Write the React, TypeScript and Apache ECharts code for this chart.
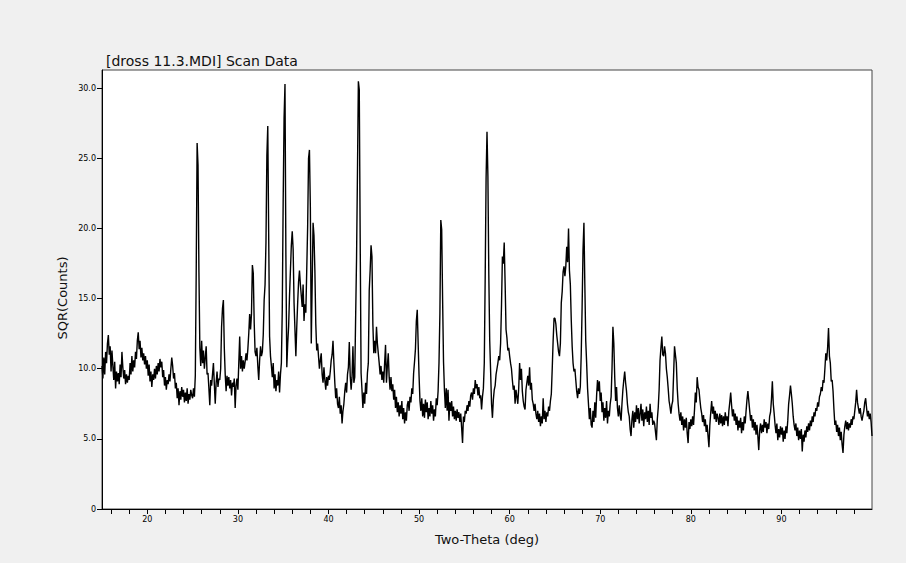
import React, { useEffect, useRef } from "react";
import * as echarts from "echarts";

// Two-Theta scan: values every 0.1 deg starting at 15.0 deg
const X_START = 15;
const X_STEP = 0.1;

const seg15to25 = [
  10.2, 9.3, 10.8, 9.6, 11.2, 10.4, 11.8, 12.4, 11.0, 11.6,
  9.8, 11.3, 10.2, 9.2, 10.5, 8.6, 9.8, 9.1, 9.7, 8.9,
  10.3, 9.4, 11.2, 10.1, 9.3, 9.9, 8.9, 9.6, 9.0, 9.5,
  9.2, 10.4, 9.6, 10.9, 9.8, 10.6, 10.1, 11.2, 10.7, 12.0,
  12.6, 11.4, 12.0, 10.8, 11.5, 10.6, 11.1, 10.3, 10.9, 10.0,
  10.6, 9.5, 10.3, 9.1, 9.8, 8.7, 9.6, 9.2, 10.0, 9.3,
  10.2, 9.6, 10.4, 9.8, 10.7, 10.1, 10.5, 9.4, 9.9, 8.8,
  9.4, 8.5, 9.2, 8.9, 9.6, 9.1, 10.0, 10.8, 10.2, 9.3,
  9.7, 8.6, 9.0, 7.9, 8.6, 7.4, 8.4, 7.8, 8.7, 8.0,
  8.5, 7.6, 8.3, 7.7, 8.6, 7.5, 8.2, 7.8, 8.5, 8.1,
];

const seg25to35 = [
  7.9, 8.6, 8.0, 9.5, 16.9, 26.1, 24.5, 16.9, 11.5, 10.2,
  12.0, 10.4, 11.3, 10.0, 10.8, 11.6, 9.6, 9.7, 8.6, 7.4,
  9.2, 8.8, 9.6, 10.4, 8.9, 7.5, 9.0, 9.8, 8.7, 9.3,
  9.2, 10.0, 13.0, 14.3, 14.9, 11.5, 9.6, 8.4, 9.5, 8.8,
  9.4, 8.6, 9.2, 8.1, 9.0, 8.7, 9.3, 7.2, 8.8, 9.3,
  8.5, 10.4, 12.3, 10.0, 10.9, 9.8, 10.6, 10.0, 10.5, 11.1,
  10.6, 11.4, 12.5, 13.9, 12.8, 13.9, 17.4, 16.8, 13.3, 11.2,
  10.9, 11.5, 10.2, 9.2, 10.6, 11.6, 10.9, 11.2, 12.4, 14.9,
  16.0, 19.0, 25.2, 27.3, 19.6, 12.3, 10.9, 10.2, 9.4, 10.4,
  8.6, 9.6, 8.4, 9.2, 8.8, 9.8, 8.3, 9.6, 10.4, 14.2,
];

const seg35to45 = [
  22.0, 27.9, 30.3, 18.0, 10.1, 11.8, 13.0, 15.2, 17.0, 18.8,
  19.8, 18.5, 14.7, 12.8, 10.9, 13.0, 14.7, 16.2, 17.0, 16.0,
  15.2, 14.4, 16.0, 13.4, 14.6, 14.0, 17.0, 20.1, 25.0, 25.6,
  21.5, 11.8, 16.0, 20.4, 19.5, 17.0, 13.2, 11.3, 11.8, 10.9,
  10.0, 10.6, 11.1, 9.6, 9.0, 10.1, 9.2, 8.5, 9.4, 8.8,
  9.5, 9.2, 9.8, 10.6, 11.0, 12.0, 10.4, 9.0, 7.9, 8.6,
  7.5, 7.2, 8.0, 6.8, 7.4, 6.1, 7.0, 7.5, 8.4, 9.0,
  8.3, 9.6, 10.1, 11.9, 9.5, 8.5, 9.4, 11.6, 9.0, 9.4,
  13.7, 17.9, 24.0, 30.5, 29.9, 19.3, 9.7, 8.5, 7.2, 8.3,
  7.5, 9.0, 8.2, 9.7, 10.4, 15.6, 17.0, 18.8, 18.0, 13.2,
];

const seg45to55 = [
  11.1, 12.0, 11.1, 13.0, 11.8, 11.1, 10.4, 9.6, 10.2, 9.2,
  9.8, 9.0, 10.4, 11.7, 9.0, 10.2, 11.1, 9.4, 8.5, 9.4,
  8.4, 8.9, 7.8, 8.5, 7.2, 8.0, 6.9, 7.6, 6.6, 7.4,
  6.8, 7.7, 6.4, 7.2, 6.1, 6.9, 6.3, 7.4, 7.7, 7.0,
  8.0, 7.6, 8.6, 8.2, 9.7, 10.5, 11.4, 13.4, 14.2, 11.8,
  9.5, 7.7, 7.0, 7.9, 6.6, 7.5, 6.5, 7.8, 6.9, 7.6,
  6.4, 7.2, 6.6, 7.7, 6.8, 7.4, 6.3, 7.1, 6.6, 7.9,
  7.4, 8.4, 10.4, 13.9, 20.6, 19.9, 14.9, 10.5, 8.5, 7.2,
  8.6, 7.0, 8.5, 6.3, 7.6, 7.0, 7.7, 6.6, 7.3, 6.4,
  7.0, 6.3, 7.1, 6.5, 6.9, 6.2, 6.8, 5.8, 4.7, 6.6,
];

const seg55to65 = [
  6.2, 7.0, 6.8, 7.4, 7.0, 7.7, 7.3, 8.1, 8.3, 7.8,
  8.6, 8.2, 9.2, 8.6, 8.9, 8.1, 8.7, 7.9, 8.1, 7.1,
  8.0, 8.6, 10.4, 16.5, 23.6, 26.9, 23.7, 16.7, 12.0, 9.8,
  7.5, 6.5, 7.8, 8.5, 8.8, 9.6, 10.0, 10.4, 10.9, 10.6,
  11.8, 14.5, 18.0, 17.5, 19.0, 16.1, 12.8, 12.2, 11.3, 11.5,
  10.9, 10.4, 10.0, 9.2, 8.5, 8.8, 7.5, 8.5, 8.0, 7.5,
  8.6, 10.4, 9.2, 10.0, 8.4, 7.7, 7.3, 7.1, 8.5, 9.0,
  9.5, 8.8, 10.1, 8.5, 9.0, 7.8, 7.5, 7.0, 7.5, 6.8,
  6.4, 7.0, 6.2, 6.8, 5.9, 6.6, 6.1, 7.9, 6.4, 7.0,
  6.2, 6.9, 6.6, 7.3, 7.0, 7.7, 8.2, 10.0, 12.0, 13.6,
];

const seg65to75 = [
  13.6, 13.2, 12.4, 11.8, 11.2, 10.9, 11.8, 14.7, 15.5, 16.9,
  17.3, 16.6, 17.3, 18.7, 17.6, 20.0, 17.0, 16.0, 13.5, 11.6,
  10.4, 9.8, 10.0, 9.2, 8.4, 7.9, 8.6, 8.2, 8.7, 11.0,
  14.4, 18.5, 20.4, 16.0, 12.0, 10.4, 8.6, 7.5, 6.4, 7.2,
  6.0, 5.8, 7.0, 6.2, 7.6, 6.5, 8.1, 9.2, 8.4, 9.1,
  7.7, 8.3, 6.9, 7.6, 6.3, 7.2, 6.5, 7.7, 6.1, 7.0,
  6.6, 7.5, 8.0, 10.0, 13.0, 11.8, 9.4, 7.7, 8.7, 7.2,
  6.6, 7.4, 6.7, 6.3, 7.5, 8.5, 9.2, 9.8, 9.0, 8.4,
  7.5, 6.9, 6.6, 5.7, 5.2, 6.4, 7.0, 5.8, 6.9, 6.2,
  7.4, 6.4, 7.2, 6.1, 6.8, 7.5, 6.3, 7.1, 5.9, 6.9,
];

const seg75to85 = [
  6.4, 7.3, 6.2, 7.0, 6.0, 7.5, 6.5, 6.9, 6.0, 6.3,
  6.1, 5.5, 4.9, 6.4, 7.2, 8.5, 10.6, 11.5, 12.3, 11.0,
  10.9, 11.6, 11.1, 10.0, 9.4, 8.6, 7.7, 7.3, 6.8, 7.4,
  7.7, 9.6, 11.6, 11.0, 10.4, 8.6, 7.5, 6.8, 6.3, 6.9,
  6.0, 6.6, 5.6, 6.4, 5.8, 6.5, 5.4, 4.7, 6.2, 5.7,
  6.4, 5.9, 6.6, 6.0, 7.0, 8.3, 7.6, 9.4, 8.7, 8.5,
  7.8, 7.2, 6.8, 6.2, 6.7, 5.9, 6.4, 5.5, 6.0, 5.2,
  4.4, 6.0, 6.9, 7.7, 6.8, 7.3, 6.4, 7.0, 6.2, 6.8,
  6.5, 6.0, 6.8, 6.1, 6.7, 5.9, 6.6, 6.0, 6.9, 6.3,
  6.6, 5.9, 7.0, 7.6, 8.3, 7.4, 6.6, 7.1, 6.3, 6.8,
];

const seg85to95 = [
  6.0, 6.6, 5.6, 6.3, 5.8, 6.5, 5.4, 6.2, 5.6, 6.6,
  6.1, 7.0, 7.8, 8.4, 7.7, 7.0, 6.3, 6.7, 5.8, 6.4,
  5.6, 6.2, 5.3, 6.0, 5.2, 4.2, 5.6, 6.1, 5.4, 6.0,
  5.5, 6.4, 5.8, 6.2, 5.4, 6.1, 5.7, 6.6, 6.9, 7.8,
  9.1, 7.5, 6.8, 6.0, 5.4, 6.1, 4.9, 5.7, 5.1, 5.9,
  5.3, 5.8, 4.8, 5.6, 5.0, 5.9, 5.4, 6.3, 7.5, 8.1,
  8.8, 8.2, 7.5, 6.6, 6.0, 5.6, 6.1, 5.2, 5.8, 4.9,
  5.6, 5.0, 5.7, 4.1, 5.3, 4.8, 5.6, 5.1, 5.9, 5.5,
  6.1, 5.6, 6.3, 5.9, 6.6, 6.2, 6.9, 6.6, 7.2, 7.0,
  7.6, 7.3, 8.0, 8.2, 8.7, 8.4, 9.2, 9.0, 10.0, 11.1,
];

const seg95to100 = [
  10.6, 11.5, 12.9, 10.9, 10.4, 9.1, 9.2, 8.4, 7.1, 6.0,
  6.3, 5.5, 6.0, 5.2, 5.8, 4.9, 5.5, 4.6, 4.0, 5.3,
  5.9, 6.3, 5.7, 6.2, 5.6, 6.1, 5.8, 6.4, 6.0, 6.6,
  6.4, 7.0, 7.6, 8.5, 7.6, 7.2, 6.8, 7.2, 6.6, 6.3,
  6.7, 7.0, 7.6, 7.9, 7.2, 6.6, 7.0, 6.4, 6.8, 6.2,
  5.2,
];

const xTickValues = [16, 18, 20, 22, 24, 26, 28, 30, 32, 34, 36, 38, 40, 42, 44, 46, 48, 50, 52, 54, 56, 58, 60, 62, 64, 66, 68, 70, 72, 74, 76, 78, 80, 82, 84, 86, 88, 90, 92, 94, 96, 98];
const xLabelValues = [20, 30, 40, 50, 60, 70, 80, 90];
const yTickValues = [0, 5, 10, 15, 20, 25, 30];

const FONT = "DejaVu Sans";

export default function App() {
  const ref = useRef<HTMLDivElement>(null);

  useEffect(() => {
    document.body.style.margin = "0";
    const chart = echarts.init(ref.current!, null, { renderer: "svg" });
    const values = [
      ...seg15to25, ...seg25to35, ...seg35to45, ...seg45to55, ...seg55to65,
      ...seg65to75, ...seg75to85, ...seg85to95, ...seg95to100,
    ];
    const data = values.map((v, i) => [Math.round((X_START + i * X_STEP) * 10) / 10, v]);

    chart.setOption({
      animation: false,
      backgroundColor: "#f0f0f0",
      title: {
        text: "[dross 11.3.MDI] Scan Data",
        left: 106,
        top: 54,
        padding: 0,
        textStyle: { fontFamily: FONT, fontSize: 14, fontWeight: "normal", color: "#111" },
      },
      grid: {
        left: 102, right: 34, top: 70, bottom: 54,
        show: true, backgroundColor: "#ffffff", borderColor: "#444", borderWidth: 1,
      },
      xAxis: {
        type: "value",
        min: 15,
        max: 100,
        name: "Two-Theta (deg)",
        nameLocation: "middle",
        nameGap: 24,
        nameTextStyle: { fontFamily: FONT, fontSize: 13, color: "#111" },
        axisLine: { show: true, lineStyle: { color: "#000", width: 1 } },
        axisTick: { show: true, length: 5, customValues: xTickValues, lineStyle: { color: "#000" } },
        axisLabel: {
          customValues: xLabelValues,
          margin: 6,
          fontFamily: FONT,
          fontSize: 8,
          color: "#000",
          formatter: (v: number) => (v % 10 === 0 && v < 100 ? String(v) : ""),
        },
        splitLine: { show: false },
      },
      yAxis: {
        type: "value",
        min: 0,
        max: 31.3,
        interval: 5,
        axisLine: { show: true, lineStyle: { color: "#000", width: 1 } },
        axisTick: { show: true, length: 5, customValues: yTickValues, lineStyle: { color: "#000" } },
        axisLabel: {
          customValues: yTickValues,
          margin: 6,
          fontFamily: FONT,
          fontSize: 8,
          color: "#000",
          formatter: (v: number) => (v % 5 !== 0 ? "" : v === 0 ? "0" : v.toFixed(1)),
        },
        splitLine: { show: false },
      },
      graphic: [
        {
          type: "text",
          x: 62,
          y: 298,
          rotation: Math.PI / 2,
          style: {
            text: "SQR(Counts)",
            font: `13px "${FONT}"`,
            fill: "#111",
            align: "center",
            verticalAlign: "middle",
          },
        },
      ],
      series: [
        {
          type: "line",
          data,
          showSymbol: false,
          symbol: "none",
          silent: true,
          lineStyle: { color: "#000", width: 1.4 },
        },
      ],
    });

    return () => chart.dispose();
  }, []);

  return <div ref={ref} style={{ width: 906, height: 563, background: "#f0f0f0" }} />;
}
